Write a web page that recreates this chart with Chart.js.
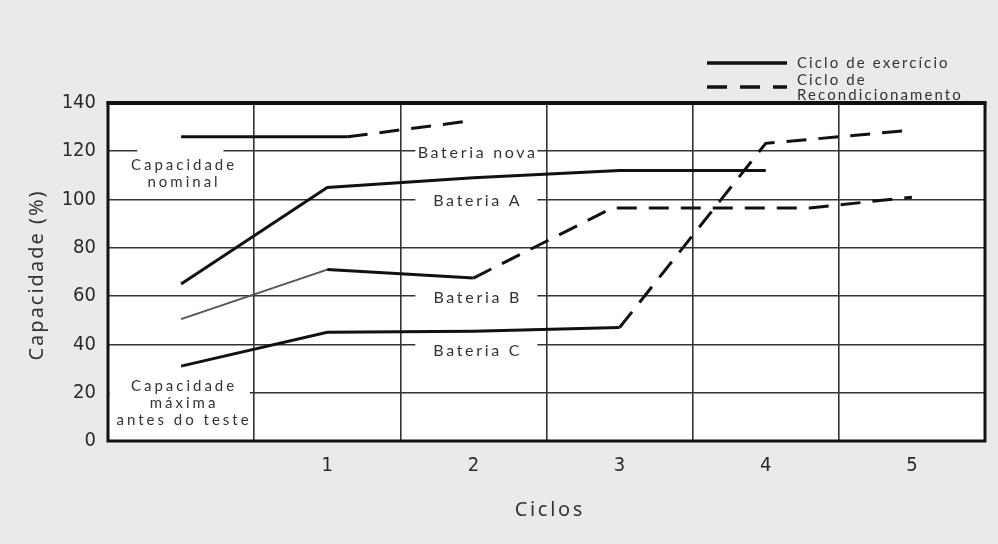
<!DOCTYPE html>
<html lang="pt">
<head>
<meta charset="utf-8">
<title>Capacidade x Ciclos</title>
<script src="https://cdn.jsdelivr.net/npm/chart.js@4.4.1/dist/chart.umd.min.js"></script>
<style>
  html, body { margin: 0; padding: 0; background: #eaeaea; }
  #wrap { width: 998px; height: 544px; }
</style>
</head>
<body>
<div id="wrap"><canvas id="grafico" width="998" height="544"></canvas></div>
<script>
// ---- dados ----
const ciclos = ['', '1', '2', '3', '4', '5'];   // primeira coluna = antes do teste

// x = posição em ciclos (0 = antes do teste), y = capacidade (%)
const novaX = [0, 1.14, 1.99];
const novaY = [126, 126, 132.7];
const novaInicioRecond = 1;      // índice a partir do qual a linha é tracejada

const aX = [0, 1, 2, 3, 4];
const aY = [65, 105, 109, 112, 112];
const aInicioRecond = 99;        // sem recondicionamento

const bX = [0, 1, 2, 2.95, 4.3, 5];
const bY = [50.5, 71, 67.5, 96.5, 96.5, 101];
const bInicioRecond = 2;

const cX = [0, 1, 2, 3, 4, 4.5, 5];
const cY = [31, 45, 45.5, 47, 123.3, 126, 128.8];
const cInicioRecond = 3;

const rotulosBateria = ['Bateria nova', 'Bateria A', 'Bateria B', 'Bateria C'];
const rotulosBateriaY = [120, 100, 60, 40];

const legendaTextos = ['Ciclo de exercício', 'Ciclo de', 'Recondicionamento'];

// ---- helpers ----
const TRACO = [20, 12];
const pontos = (xs, ys) => xs.map((x, i) => ({ x, y: ys[i] }));

function serie(label, xs, ys, inicioRecond, extraSeg) {
  return {
    label,
    data: pontos(xs, ys),
    xAxisID: 'xv',
    borderColor: '#111',
    borderWidth: 3,
    pointRadius: 0,
    tension: 0,
    fill: false,
    segment: Object.assign({
      borderDash: ctx => ctx.p0DataIndex >= inicioRecond ? TRACO : undefined
    }, extraSeg || {})
  };
}

function texto(ctx, str, x, y, font, spacing, align) {
  ctx.save();
  ctx.font = font;
  ctx.letterSpacing = spacing + 'px';
  ctx.fillStyle = '#333';
  ctx.textAlign = align || 'center';
  ctx.textBaseline = 'middle';
  ctx.fillText(str, align === 'left' ? x : x + spacing / 2, y);
  ctx.restore();
}

const FONTE_NOTA = '15px Lato';
const FONTE_BAT = '16px Lato';
const FONTE_LEG = '15px Lato';

// fundo cinza + área branca
const fundo = {
  id: 'fundo',
  beforeDraw(chart) {
    const { ctx, chartArea: a } = chart;
    ctx.save();
    ctx.fillStyle = '#eaeaea';
    ctx.fillRect(0, 0, chart.width, chart.height);
    ctx.fillStyle = '#fff';
    ctx.fillRect(a.left, a.top, a.right - a.left, a.bottom - a.top);
    ctx.restore();
  }
};

// rótulos dentro do gráfico (cobrem as linhas de grade)
const notas = {
  id: 'notas',
  beforeDatasetsDraw(chart) {
    const { ctx } = chart;
    const x = chart.scales.xv, y = chart.scales.y;
    ctx.save();

    // Bateria nova / A / B / C
    const dy = [2, 1, 2, 6.5];
    const cx = x.getPixelForValue(2.02);
    rotulosBateria.forEach((t, i) => {
      const cy = y.getPixelForValue(rotulosBateriaY[i]) + dy[i];
      ctx.fillStyle = '#fff';
      ctx.fillRect(cx - 61, cy - 10, 122, 20);
      texto(ctx, t, cx, cy, FONTE_BAT, 2.7);
    });

    // Capacidade nominal
    const x0 = x.getPixelForValue(0.01);
    const y120 = y.getPixelForValue(120);
    ctx.fillStyle = '#fff';
    ctx.fillRect(x.getPixelForValue(-0.3), y120 - 6, x.getPixelForValue(0.29) - x.getPixelForValue(-0.3), 46);
    texto(ctx, 'Capacidade', x0, y120 + 13.5, FONTE_NOTA, 3);
    texto(ctx, 'nominal', x0, y120 + 31, FONTE_NOTA, 3);

    // Capacidade máxima antes do teste
    const y20 = y.getPixelForValue(20);
    ctx.fillStyle = '#fff';
    ctx.fillRect(x.getPixelForValue(-0.49), y20 - 18, x.getPixelForValue(0.47) - x.getPixelForValue(-0.49), 56);
    texto(ctx, 'Capacidade', x0, y20 - 7, FONTE_NOTA, 3);
    texto(ctx, 'máxima', x0, y20 + 10.5, FONTE_NOTA, 3);
    texto(ctx, 'antes do teste', x0, y20 + 27, FONTE_NOTA, 3);
    ctx.restore();
  },
  afterDraw(chart) {
    const { ctx, chartArea: a } = chart;
    ctx.save();
    // moldura
    ctx.strokeStyle = '#111';
    ctx.lineWidth = 3;
    ctx.strokeRect(a.left, a.top, a.right - a.left, a.bottom - a.top);
    ctx.lineWidth = 4;
    ctx.beginPath(); ctx.moveTo(a.left - 1.5, a.top); ctx.lineTo(a.right + 1.5, a.top); ctx.stroke();

    // títulos dos eixos
    texto(ctx, 'Ciclos', (a.left + a.right) / 2 + 2, 510, '20px "Noto Sans"', 2.7);
    ctx.save();
    ctx.translate(37, 276);
    ctx.rotate(-Math.PI / 2);
    texto(ctx, 'Capacidade (%)', 0, 0, '20px "Noto Sans"', 2);
    ctx.restore();

    // legenda
    ctx.strokeStyle = '#111';
    ctx.lineWidth = 3.5;
    ctx.beginPath(); ctx.moveTo(707, 63); ctx.lineTo(787, 63); ctx.stroke();
    ctx.setLineDash([20, 13]);
    ctx.beginPath(); ctx.moveTo(707, 87); ctx.lineTo(787, 87); ctx.stroke();
    ctx.setLineDash([]);
    texto(ctx, legendaTextos[0], 797, 63, FONTE_LEG, 2.1, 'left');
    texto(ctx, legendaTextos[1], 797, 80, FONTE_LEG, 2.1, 'left');
    texto(ctx, legendaTextos[2], 797, 95, FONTE_LEG, 2.1, 'left');
    ctx.restore();
  }
};

const GRADE = '#333';
const FONTE_TICK = { family: '"Liberation Sans Narrow", "DejaVu Sans Condensed", sans-serif', size: 20 };

new Chart(document.getElementById('grafico'), {
  type: 'line',
  data: {
    labels: ciclos,
    datasets: [
      serie('Bateria nova', novaX, novaY, novaInicioRecond),
      serie('Bateria A', aX, aY, aInicioRecond),
      serie('Bateria B', bX, bY, bInicioRecond, {
        borderWidth: ctx => ctx.p0DataIndex === 0 ? 2 : undefined,
        borderColor: ctx => ctx.p0DataIndex === 0 ? '#555' : undefined
      }),
      serie('Bateria C', cX, cY, cInicioRecond)
    ]
  },
  options: {
    responsive: false,
    animation: false,
    layout: { padding: { top: 103, right: 13, bottom: 0, left: 0 } },
    plugins: { legend: { display: false }, tooltip: { enabled: false } },
    scales: {
      x: {
        type: 'category',
        offset: true,
        grid: { offset: true, color: GRADE, lineWidth: 1.6, drawTicks: false },
        border: { display: false },
        ticks: { font: FONTE_TICK, color: '#2a2a2a', padding: 13, maxRotation: 0 },
        afterFit: s => { s.height = 103; }
      },
      xv: { type: 'linear', display: false, min: -0.5, max: 5.5 },
      y: {
        min: 0,
        max: 140,
        ticks: { stepSize: 20, font: FONTE_TICK, color: '#2a2a2a', padding: 12 },
        grid: { color: GRADE, lineWidth: 1.6, drawTicks: false },
        border: { display: false },
        afterFit: s => { s.width = 108; }
      }
    }
  },
  plugins: [fundo, notas]
});
</script>
</body>
</html>
